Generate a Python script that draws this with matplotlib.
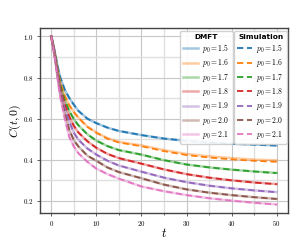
import matplotlib
matplotlib.use("Agg")
import matplotlib.pyplot as plt
from matplotlib.ticker import MultipleLocator, FuncFormatter

plt.rcParams['mathtext.fontset'] = 'cm'

t = [0, 0.5, 1, 1.5, 2, 3, 4, 5, 6, 8, 10, 12.5, 15, 20, 25, 30, 35, 40, 45, 50]
p0_values = [1.5, 1.6, 1.7, 1.8, 1.9, 2.0, 2.1]

dmft = {
    1.5: [1.0, 0.955, 0.90, 0.845, 0.80, 0.74, 0.70, 0.668, 0.638, 0.600, 0.578, 0.556, 0.540, 0.520, 0.503, 0.492, 0.484, 0.478, 0.474, 0.470],
    1.6: [1.0, 0.95, 0.89, 0.83, 0.78, 0.71, 0.665, 0.632, 0.605, 0.562, 0.533, 0.505, 0.487, 0.470, 0.447, 0.428, 0.417, 0.408, 0.401, 0.397],
    1.7: [1.0, 0.948, 0.885, 0.82, 0.765, 0.69, 0.637, 0.598, 0.568, 0.524, 0.493, 0.466, 0.447, 0.425, 0.398, 0.377, 0.363, 0.352, 0.343, 0.336],
    1.8: [1.0, 0.945, 0.88, 0.81, 0.75, 0.67, 0.61, 0.565, 0.533, 0.490, 0.458, 0.428, 0.408, 0.381, 0.353, 0.330, 0.313, 0.300, 0.290, 0.282],
    1.9: [1.0, 0.942, 0.875, 0.80, 0.735, 0.648, 0.585, 0.532, 0.498, 0.455, 0.425, 0.395, 0.372, 0.342, 0.313, 0.291, 0.274, 0.261, 0.251, 0.243],
    2.0: [1.0, 0.94, 0.87, 0.79, 0.72, 0.625, 0.545, 0.495, 0.465, 0.420, 0.395, 0.362, 0.340, 0.310, 0.279, 0.256, 0.240, 0.228, 0.218, 0.210],
    2.1: [1.0, 0.937, 0.865, 0.78, 0.705, 0.60, 0.51, 0.465, 0.432, 0.390, 0.357, 0.330, 0.308, 0.270, 0.247, 0.228, 0.213, 0.201, 0.191, 0.183],
}
sim = {
    1.5: [1.0, 0.955, 0.90, 0.845, 0.80, 0.74, 0.70, 0.668, 0.638, 0.600, 0.578, 0.556, 0.540, 0.520, 0.503, 0.492, 0.484, 0.478, 0.473, 0.469],
    1.6: [1.0, 0.95, 0.89, 0.83, 0.78, 0.71, 0.665, 0.632, 0.605, 0.560, 0.531, 0.502, 0.484, 0.466, 0.442, 0.423, 0.411, 0.402, 0.395, 0.390],
    1.7: [1.0, 0.948, 0.885, 0.82, 0.765, 0.69, 0.637, 0.598, 0.568, 0.524, 0.493, 0.466, 0.447, 0.425, 0.398, 0.377, 0.363, 0.352, 0.343, 0.335],
    1.8: [1.0, 0.945, 0.88, 0.81, 0.75, 0.67, 0.61, 0.565, 0.533, 0.490, 0.458, 0.428, 0.408, 0.381, 0.353, 0.330, 0.313, 0.300, 0.289, 0.281],
    1.9: [1.0, 0.942, 0.875, 0.80, 0.735, 0.648, 0.585, 0.532, 0.498, 0.455, 0.425, 0.395, 0.372, 0.342, 0.313, 0.291, 0.274, 0.261, 0.251, 0.242],
    2.0: [1.0, 0.94, 0.87, 0.79, 0.72, 0.625, 0.545, 0.495, 0.465, 0.420, 0.395, 0.362, 0.340, 0.310, 0.279, 0.256, 0.240, 0.228, 0.218, 0.209],
    2.1: [1.0, 0.937, 0.865, 0.78, 0.705, 0.60, 0.51, 0.465, 0.432, 0.390, 0.357, 0.330, 0.308, 0.270, 0.247, 0.228, 0.213, 0.201, 0.191, 0.182],
}
colors = ['#1f77b4', '#ff7f0e', '#2ca02c', '#d62728', '#9467bd', '#8c564b', '#e377c2']

fig = plt.figure(figsize=(2.91, 2.40), dpi=100)
ax = fig.add_axes([40/291, 1-213/240, 248/291, 185/240])

h_dmft, h_sim = [], []
for p, c in zip(p0_values, colors):
    l1, = ax.plot(t, dmft[p], color=c, lw=1.8, alpha=0.4, label=r'$p_0 = %.1f$' % p)
    h_dmft.append(l1)
for p, c in zip(p0_values, colors):
    l2, = ax.plot(t, sim[p], color=c, lw=1.3, ls=(0, (3.5, 2)), label=r'$p_0 = %.1f$' % p)
    h_sim.append(l2)

ax.xaxis.set_major_locator(MultipleLocator(10))
ax.xaxis.set_minor_locator(MultipleLocator(5))
ax.yaxis.set_major_locator(MultipleLocator(0.2))
ax.yaxis.set_minor_locator(MultipleLocator(0.1))
ax.xaxis.set_major_formatter(FuncFormatter(lambda v, pos: r'$%d$' % round(v)))
ax.yaxis.set_major_formatter(FuncFormatter(lambda v, pos: r'$%.1f$' % v))
ax.grid(which='major', color='#c8c8c8', lw=0.8)
ax.grid(which='minor', color='#e0e0e0', lw=1.0)
ax.set_axisbelow(True)
ax.tick_params(which='both', labelsize=5, length=2.5, width=0.6, color='#444444', pad=2)
ax.tick_params(which='minor', length=1.5)
for s in ax.spines.values():
    s.set_color('#444444')
    s.set_linewidth(1.0)

ax.set_xlabel(r'$t$', fontsize=9, labelpad=-1)
ax.set_ylabel(r'$C(t, 0)$', fontsize=8.5, labelpad=0)

leg_kw = dict(fontsize=5.5, handlelength=1.9, borderpad=0.4, labelspacing=0.3,
              handletextpad=0.6, borderaxespad=0.0, framealpha=0.9,
              edgecolor='#cccccc', fancybox=True,
              title_fontproperties={'weight': 'bold', 'size': 5.3})
leg1 = ax.legend(handles=h_dmft, title='DMFT', loc='upper right',
                 bbox_to_anchor=(0.778, 0.985), **leg_kw)
ax.add_artist(leg1)
leg2 = ax.legend(handles=h_sim, title='Simulation', loc='upper right',
                 bbox_to_anchor=(0.996, 0.985), **leg_kw)

fig.savefig('out.png', dpi=100)
